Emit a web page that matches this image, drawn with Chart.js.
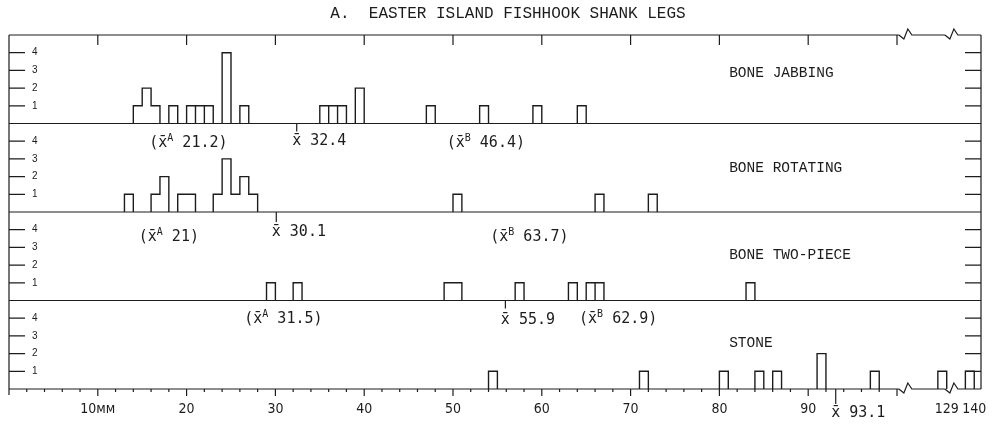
<!DOCTYPE html>
<html>
<head>
<meta charset="utf-8">
<script src="https://cdn.jsdelivr.net/npm/chart.js@4.4.1/dist/chart.umd.min.js"></script>
<style>
  html, body { margin: 0; padding: 0; background: #fff; }
  #wrap { width: 992px; height: 426px; position: relative; }
</style>
</head>
<body>
<div id="wrap"><canvas id="chart"></canvas></div>
<script>
// histogram bins are 1 mm wide, given by their lower edge (mm)
const jabbingBins   = [14, 15, 16, 18, 20, 21, 22, 24, 26, 35, 36, 37, 39, 47, 53, 59, 64];
const jabbingCounts = [ 1,  2,  1,  1,  1,  1,  1,  4,  1,  1,  1,  1,  2,  1,  1,  1,  1];
const jabbingSplits = [21, 22, 36, 37];

const rotatingBins   = [13, 16, 17, 19, 20, 23, 24, 25, 26, 27, 50, 66, 72];
const rotatingCounts = [ 1,  1,  2,  1,  1,  1,  3,  1,  2,  1,  1,  1,  1];
const rotatingSplits = [];

const twoPieceBins   = [29, 32, 49, 50, 57, 63, 65, 66, 83];
const twoPieceCounts = [ 1,  1,  1,  1,  1,  1,  1,  1,  1];
const twoPieceSplits = [66];

const stoneBins   = [54, 71, 80, 84, 86, 91, 97, 129, 140];
const stoneCounts = [ 1,  1,  1,  1,  1,  2,  1,   1,   1];
const stoneSplits = [];

const panelNames   = ['BONE JABBING', 'BONE ROTATING', 'BONE TWO-PIECE', 'STONE'];
const overallMeans = ['32.4', '30.1', '55.9', '93.1'];
const meanA        = ['21.2', '21', '31.5', null];
const meanB        = ['46.4', '63.7', '62.9', null];

const xTickValues = [10, 20, 30, 40, 50, 60, 70, 80, 90, 129, 140];
const yTickValues = [1, 2, 3, 4];

// --- layout (not data) ---
const INK = '#1c1c1c';
const subLabelX = [[20.2, 53.7], [18.0, 58.6], [30.9, 68.6]];
const subDrop = [20, 25, 19];
const meanTick = [8, 10, 8, 15];
const meanDrop = [18, 20, 20, 24];
const nameY = [2.85, 2.5, 2.55, 2.6];

// broken x axis: real mm -> axis units
const realStops = [0, 100, 129, 130, 140, 141.76];
const axisStops = [0, 100, 104.6, 105.6, 107.7, 109.46];
function toAxis(v) {
  for (let i = 1; i < realStops.length; i++) {
    if (v <= realStops[i] || i === realStops.length - 1) {
      const t = (v - realStops[i - 1]) / (realStops[i] - realStops[i - 1]);
      return axisStops[i - 1] + t * (axisStops[i] - axisStops[i - 1]);
    }
  }
}

class BrokenScale extends Chart.LinearScale {
  getPixelForValue(v) {
    if (v === null || v === undefined || isNaN(v)) return NaN;
    return this.getPixelForDecimal(toAxis(v) / toAxis(this.max));
  }
}
BrokenScale.id = 'broken';
BrokenScale.defaults = Chart.LinearScale.defaults;
Chart.register(BrokenScale);

function outline(bins, counts) {
  const pts = [];
  let i = 0;
  while (i < bins.length) {
    let j = i;
    while (j + 1 < bins.length && bins[j + 1] === bins[j] + 1) j++;
    pts.push({ x: bins[i], y: 0 });
    for (let k = i; k <= j; k++) {
      pts.push({ x: bins[k], y: counts[k] }, { x: bins[k] + 1, y: counts[k] });
    }
    pts.push({ x: bins[j] + 1, y: 0 }, { x: bins[j] + 1, y: null });
    i = j + 1;
  }
  return pts;
}

function splits(bins, counts, at) {
  const pts = [];
  at.forEach(s => {
    const h = Math.min(counts[bins.indexOf(s - 1)], counts[bins.indexOf(s)]);
    pts.push({ x: s, y: 0 }, { x: s, y: h }, { x: s, y: null });
  });
  return pts;
}

function lineSet(data, axis) {
  return {
    type: 'line', data, yAxisID: axis, xAxisID: 'x',
    borderColor: INK, borderWidth: 1.4, pointRadius: 0,
    tension: 0, spanGaps: false, fill: false
  };
}

function panelAxis() {
  return {
    type: 'linear', position: 'left', stack: 'panels', stackWeight: 1,
    min: 0, max: 5,
    grid: { display: false, drawTicks: false },
    border: { display: false },
    afterBuildTicks: s => { s.ticks = yTickValues.map(v => ({ value: v })); },
    afterFit: s => { s.width = 0; },
    ticks: {
      mirror: true, padding: 23, color: INK, autoSkip: false,
      font: { family: "'Liberation Sans', sans-serif", size: 10 }
    }
  };
}

const panelAxes = ['yJab', 'yRot', 'yTwo', 'yStone'];

const noteFont = "15px 'DejaVu Sans Mono', monospace";
const supFont = "10px 'DejaVu Sans Mono', monospace";

function drawRuns(ctx, runs, x, y, center) {
  const widths = runs.map(([t, sup]) => { ctx.font = sup ? supFont : noteFont; return ctx.measureText(t).width; });
  const total = widths.reduce((a, b) => a + b, 0);
  let cx = center ? x - total / 2 : x;
  ctx.textAlign = 'left';
  ctx.textBaseline = 'middle';
  runs.forEach(([t, sup], i) => {
    ctx.font = sup ? supFont : noteFont;
    ctx.fillText(t, cx, sup ? y - 5 : y);
    cx += widths[i];
  });
}

function zig(ctx, z, y) {
  ctx.moveTo(z - 8, y);
  ctx.lineTo(z - 3, y + 4);
  ctx.lineTo(z + 1, y - 6);
  ctx.lineTo(z + 5, y);
}

const frame = {
  id: 'frame',
  afterDraw(chart) {
    const { ctx, chartArea: a, scales } = chart;
    const sx = scales.x;
    const px = v => sx.getPixelForValue(v);
    const z1 = px(107), z2 = px(133.3);
    ctx.save();
    ctx.strokeStyle = INK;
    ctx.fillStyle = INK;
    ctx.lineWidth = 1.2;
    ctx.beginPath();
    // left and right borders
    ctx.moveTo(a.left, a.top); ctx.lineTo(a.left, a.bottom + 6);
    ctx.moveTo(a.right, a.top); ctx.lineTo(a.right, a.bottom);
    // top and bottom lines with breaks
    [a.top, a.bottom].forEach(y => {
      ctx.moveTo(a.left, y); ctx.lineTo(z1 - 8, y);
      zig(ctx, z1, y);
      ctx.lineTo(z2 - 8, y);
      zig(ctx, z2, y);
      ctx.lineTo(a.right, y);
    });
    // panel baselines
    panelAxes.slice(0, 3).forEach(id => {
      const y = scales[id].getPixelForValue(0);
      ctx.moveTo(a.left, y); ctx.lineTo(a.right, y);
    });
    // x ticks
    for (let v = 2; v <= 100; v += 2) {
      const x = px(v);
      ctx.moveTo(x, a.bottom); ctx.lineTo(x, a.bottom + (v % 10 === 0 ? 7 : 3));
      if (v % 10 === 0) { ctx.moveTo(x, a.top); ctx.lineTo(x, a.top + 10); }
    }
    // y ticks, both sides
    panelAxes.forEach(id => {
      yTickValues.forEach(v => {
        const y = scales[id].getPixelForValue(v);
        ctx.moveTo(a.left, y); ctx.lineTo(a.left + 16, y);
        ctx.moveTo(a.right - 16, y); ctx.lineTo(a.right, y);
      });
    });
    ctx.stroke();

    // title
    ctx.font = "16px 'Liberation Mono', 'DejaVu Sans Mono', monospace";
    ctx.textAlign = 'center';
    ctx.textBaseline = 'middle';
    ctx.fillText('A.  EASTER ISLAND FISHHOOK SHANK LEGS', 508, 14);

    panelAxes.forEach((id, i) => {
      const ys = scales[id];
      const base = ys.getPixelForValue(0);
      // panel name
      ctx.font = "14.5px 'Liberation Mono', 'DejaVu Sans Mono', monospace";
      ctx.textAlign = 'left';
      ctx.textBaseline = 'middle';
      ctx.fillText(panelNames[i], px(81.1), ys.getPixelForValue(nameY[i]));
      // overall mean mark
      const m = parseFloat(overallMeans[i]);
      const mx = px(m);
      ctx.beginPath();
      ctx.moveTo(mx, base); ctx.lineTo(mx, base + meanTick[i]);
      ctx.stroke();
      ctx.font = noteFont;
      const cw = ctx.measureText('x').width;
      drawRuns(ctx, [['x\u0304 ' + overallMeans[i], false]], mx - cw / 2, base + meanDrop[i], false);
      // sub-group means
      if (meanA[i]) {
        drawRuns(ctx, [['(x\u0304', false], ['A', true], [' ' + meanA[i] + ')', false]],
          px(subLabelX[i][0]), base + subDrop[i], true);
        drawRuns(ctx, [['(x\u0304', false], ['B', true], [' ' + meanB[i] + ')', false]],
          px(subLabelX[i][1]), base + subDrop[i], true);
      }
    });
    ctx.restore();
  }
};

new Chart(document.getElementById('chart'), {
  type: 'line',
  data: {
    datasets: [
      lineSet(outline(jabbingBins, jabbingCounts), 'yJab'),
      lineSet(splits(jabbingBins, jabbingCounts, jabbingSplits), 'yJab'),
      lineSet(outline(rotatingBins, rotatingCounts), 'yRot'),
      lineSet(splits(rotatingBins, rotatingCounts, rotatingSplits), 'yRot'),
      lineSet(outline(twoPieceBins, twoPieceCounts), 'yTwo'),
      lineSet(splits(twoPieceBins, twoPieceCounts, twoPieceSplits), 'yTwo'),
      lineSet(outline(stoneBins, stoneCounts), 'yStone'),
      lineSet(splits(stoneBins, stoneCounts, stoneSplits), 'yStone')
    ]
  },
  options: {
    responsive: true,
    maintainAspectRatio: false,
    animation: false,
    events: [],
    layout: { padding: { left: 9, right: 11, top: 35, bottom: 0 } },
    plugins: { legend: { display: false }, tooltip: { enabled: false } },
    scales: {
      x: {
        type: 'broken', min: 0, max: 141.76,
        grid: { display: false, drawTicks: false },
        border: { display: false },
        // labels past the break sit at the right edge of their bins
        afterBuildTicks: s => { s.ticks = xTickValues.map(v => ({ value: v > 100 ? v + 1 : v })); },
        afterFit: s => { s.height = 37; s.paddingLeft = 0; s.paddingRight = 0; },
        ticks: {
          autoSkip: false, maxRotation: 0, padding: 12, color: INK,
          font: { family: "'Liberation Sans Narrow', 'DejaVu Sans Condensed', 'Liberation Sans', sans-serif", size: 14 },
          callback: v => v === 10 ? '10\u1D0D\u1D0D' : String(Math.floor(v - (v > 100 ? 1 : 0)))
        }
      },
      yStone: panelAxis(),
      yTwo: panelAxis(),
      yRot: panelAxis(),
      yJab: panelAxis()
    }
  },
  plugins: [frame]
});
</script>
</body>
</html>
